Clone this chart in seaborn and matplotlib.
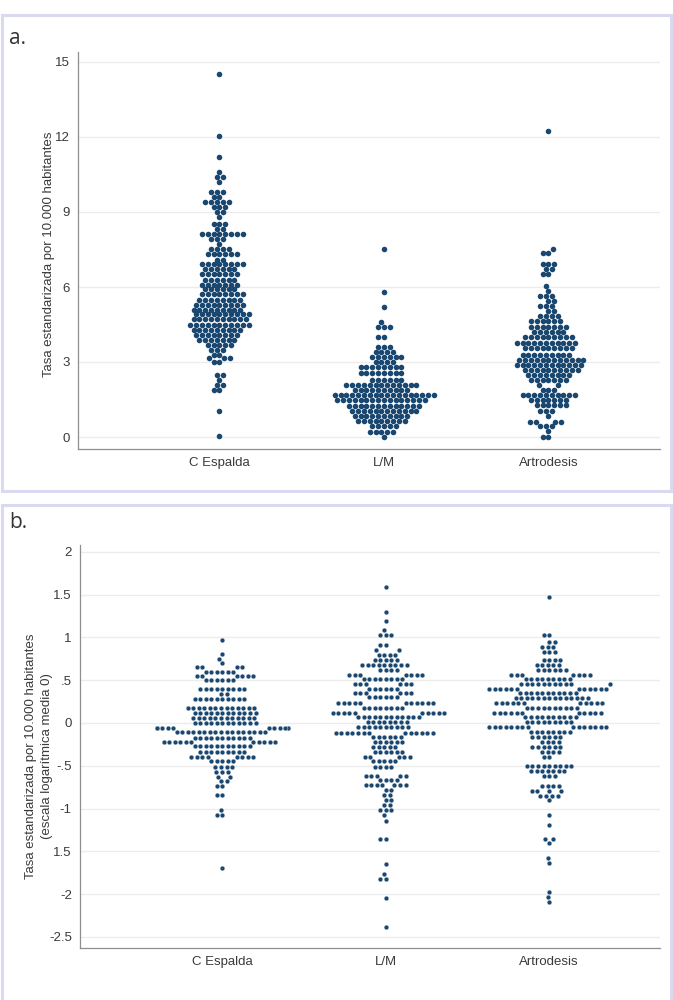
import numpy as np
import pandas as pd
import matplotlib
matplotlib.use("Agg")
import matplotlib.pyplot as plt
import seaborn as sns
from matplotlib.patches import Rectangle

GRUPOS = ["C Espalda", "L/M", "Artrodesis"]

# panel a: tasa estandarizada por 10.000 hab. (nivel de cada fila del dotplot y nº de puntos)
ESPALDA_A_NIVEL = [14.5, 12.05, 11.2, 10.6, 10.4, 10.2, 9.8, 9.6, 9.4, 9.2, 9.0, 8.8, 8.5, 8.3,
                   8.1, 7.9, 7.7, 7.5, 7.3, 7.1, 6.9, 6.7, 6.5, 6.3, 6.1, 5.9, 5.7, 5.5, 5.3,
                   5.1, 4.9, 4.7, 4.5, 4.3, 4.1, 3.9, 3.7, 3.5, 3.3, 3.15, 3.0, 2.5, 2.3, 2.1,
                   1.9, 1.05, 0.05]
ESPALDA_A_N = [1, 1, 1, 1, 2, 1, 3, 2, 5, 3, 2, 1, 3, 2,
               8, 3, 1, 4, 6, 2, 8, 6, 7, 6, 7, 6, 8, 8, 9,
               9, 10, 10, 11, 9, 8, 7, 5, 3, 2, 3, 2, 2, 1, 2,
               2, 1, 1]

LM_A_NIVEL = [7.5, 5.8, 5.2, 4.6, 4.4, 4.0, 3.6, 3.4, 3.2, 3.0, 2.8, 2.55, 2.3, 2.1, 1.9,
              1.7, 1.5, 1.25, 1.05, 0.85, 0.65, 0.45, 0.22, 0.02]
LM_A_N = [1, 1, 1, 1, 3, 2, 3, 4, 6, 4, 8, 8, 6, 13, 10,
          18, 16, 13, 12, 10, 9, 5, 5, 1]

ARTRO_A_NIVEL = [12.25, 7.5, 7.35, 6.9, 6.7, 6.5, 6.05, 5.85, 5.65, 5.45, 5.25, 5.05, 4.85,
                 4.65, 4.4, 4.2, 4.0, 3.75, 3.55, 3.3, 3.1, 2.9, 2.7, 2.5, 2.3, 2.07, 1.9,
                 1.7, 1.5, 1.27, 1.05, 0.85, 0.62, 0.45, 0.25, 0.02]
ARTRO_A_N = [1, 1, 2, 3, 2, 2, 1, 1, 3, 2, 3, 2, 4,
             6, 7, 6, 9, 11, 9, 9, 12, 12, 10, 8, 7, 2, 3,
             10, 7, 6, 3, 1, 4, 3, 1, 2]

# panel b: escala logaritmica centrada en 0
ESPALDA_B_NIVEL = [0.97, 0.81, 0.75, 0.70, 0.65, 0.6, 0.55, 0.5, 0.4, 0.34, 0.28, 0.18, 0.12,
                   0.06, 0.0, -0.06, -0.11, -0.17, -0.22, -0.27, -0.34, -0.4, -0.45, -0.51,
                   -0.57, -0.63, -0.68, -0.74, -0.84, -1.02, -1.08, -1.7]
ESPALDA_B_N = [1, 1, 1, 1, 4, 6, 6, 6, 9, 2, 10, 13, 12,
               12, 12, 11, 17, 11, 11, 11, 9, 8, 5, 4,
               3, 2, 2, 2, 2, 1, 2, 1]

LM_B_NIVEL = [1.59, 1.30, 1.19, 1.09, 1.03, 0.91, 0.85, 0.8, 0.74, 0.68, 0.62, 0.56, 0.51,
              0.45, 0.4, 0.35, 0.3, 0.23, 0.18, 0.12, 0.07, 0.01, -0.05, -0.12, -0.16, -0.22,
              -0.28, -0.34, -0.4, -0.45, -0.51, -0.62, -0.67, -0.73, -0.78, -0.84, -0.9,
              -0.96, -1.02, -1.08, -1.14, -1.36, -1.65, -1.76, -1.82, -2.05, -2.38]
LM_B_N = [1, 1, 1, 1, 3, 2, 2, 4, 5, 9, 4, 7, 8,
          6, 6, 6, 6, 11, 8, 10, 12, 8, 10, 13, 6, 6,
          5, 6, 5, 5, 4, 5, 4, 7, 2, 2, 2,
          2, 3, 1, 1, 2, 1, 1, 2, 1, 1]

ARTRO_B_NIVEL = [1.47, 1.03, 0.95, 0.89, 0.83, 0.74, 0.68, 0.62, 0.56, 0.51, 0.45, 0.4, 0.35,
                 0.29, 0.23, 0.18, 0.12, 0.07, 0.01, -0.05, -0.1, -0.16, -0.22, -0.28, -0.34,
                 -0.4, -0.5, -0.56, -0.62, -0.74, -0.8, -0.85, -0.9, -1.08, -1.19, -1.36,
                 -1.4, -1.58, -1.64, -1.97, -2.03, -2.09]
ARTRO_B_N = [1, 2, 2, 3, 3, 4, 5, 6, 7, 9, 11, 12, 11,
             14, 11, 10, 11, 10, 9, 15, 8, 6, 4, 6, 4,
             2, 9, 7, 3, 4, 4, 4, 1, 1, 1, 2,
             1, 1, 1, 1, 1, 1]

YTICKS_A = [0, 3, 6, 9, 12, 15]
YTICKS_B = [2, 1.5, 1, 0.5, 0, -0.5, -1, -1.5, -2, -2.5]
YTICKLABELS_B = ["2", "1.5", "1", ".5", "0", "-.5", "-1", "1.5", "-2", "-2.5"]

NAVY = "#1a476f"
GRIS = "#8f8f8f"
TEXTO = "#3a3a3a"


def expandir(pares):
    filas = []
    for grupo, niveles, cuentas in pares:
        filas.append(pd.DataFrame({"grupo": grupo, "valor": np.repeat(niveles, cuentas)}))
    return pd.concat(filas, ignore_index=True)


def estilo_ejes(ax):
    ax.yaxis.grid(True, color="#ececec", lw=1.0)
    ax.xaxis.grid(False)
    ax.set_axisbelow(True)
    for s in ["top", "right"]:
        ax.spines[s].set_visible(False)
    for s in ["left", "bottom"]:
        ax.spines[s].set_color(GRIS)
        ax.spines[s].set_linewidth(0.9)
    ax.tick_params(direction="out", length=4, width=0.8, color=GRIS,
                   labelsize=9.5, labelcolor=TEXTO, pad=2)
    ax.set_xlabel("")


sns.set_theme(style="white")
plt.rcParams["font.family"] = ["Liberation Sans", "DejaVu Sans"]

df_a = expandir([("C Espalda", ESPALDA_A_NIVEL, ESPALDA_A_N),
                 ("L/M", LM_A_NIVEL, LM_A_N),
                 ("Artrodesis", ARTRO_A_NIVEL, ARTRO_A_N)])
df_b = expandir([("C Espalda", ESPALDA_B_NIVEL, ESPALDA_B_N),
                 ("L/M", LM_B_NIVEL, LM_B_N),
                 ("Artrodesis", ARTRO_B_NIVEL, ARTRO_B_N)])

fig = plt.figure(figsize=(6.73, 10), dpi=100)

# marcos de los paneles
fig.patches.append(Rectangle((0.003, 0.509), 0.994, 0.476, transform=fig.transFigure,
                             fill=False, edgecolor="#d9d9ef", lw=2.2))
fig.patches.append(Rectangle((0.003, -0.01), 0.994, 0.505, transform=fig.transFigure,
                             fill=False, edgecolor="#d9d9ef", lw=2.2))

ax1 = fig.add_axes([0.116, 0.551, 0.865, 0.397])
sns.swarmplot(data=df_a, x="grupo", y="valor", order=GRUPOS, color=NAVY,
              size=4.0, linewidth=0, ax=ax1)
ax1.set_xlim(-0.86, 2.68)
ax1.set_ylim(-0.48, 15.4)
ax1.set_yticks(YTICKS_A)
ax1.set_yticklabels([str(t) for t in YTICKS_A])
estilo_ejes(ax1)
ax1.set_ylabel("Tasa estandarizada por 10.000 habitantes", fontsize=9.5, color=TEXTO)
ax1.yaxis.set_label_coords(-0.04, 0.49)

ax2 = fig.add_axes([0.119, 0.052, 0.862, 0.403])
sns.swarmplot(data=df_b, x="grupo", y="valor", order=GRUPOS, color=NAVY,
              size=3.5, linewidth=0.3, edgecolor="white", ax=ax2)
ax2.set_xlim(-0.87, 2.68)
ax2.set_ylim(-2.63, 2.08)
ax2.set_yticks(YTICKS_B)
ax2.set_yticklabels(YTICKLABELS_B)
estilo_ejes(ax2)
ax2.set_ylabel("Tasa estandarizada por 10.000 habitantes\n(escala logarítmica media 0)",
               fontsize=9.5, color=TEXTO, linespacing=1.4)
ax2.yaxis.set_label_coords(-0.047, 0.476)

fig.text(0.014, 0.962, "a.", fontsize=15, color="#333333", family=["Open Sans", "DejaVu Sans"],
         va="center")
fig.text(0.014, 0.478, "b.", fontsize=15, color="#333333", family=["Open Sans", "DejaVu Sans"],
         va="center")

fig.savefig("out.png", dpi=100)
